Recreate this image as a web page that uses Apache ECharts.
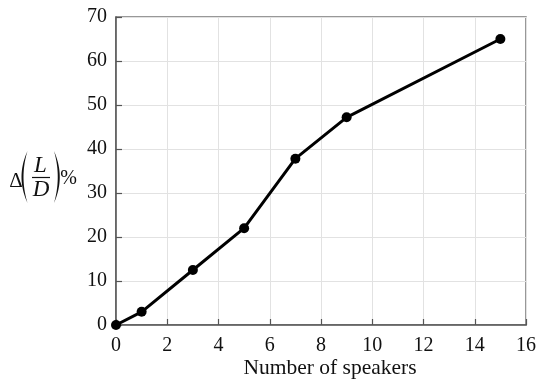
<!DOCTYPE html>
<html>
<head>
<meta charset="utf-8">
<script src="https://cdn.jsdelivr.net/npm/echarts@6/dist/echarts.min.js"></script>
<style>
  html, body { margin: 0; padding: 0; background: #fff; }
  #chart { width: 538px; height: 381px; }
</style>
</head>
<body>
<div id="chart"></div>
<script>
// Lift-to-drag improvement versus number of speakers
var speakers = [0, 1, 3, 5, 7, 9, 15];
var deltaLD = [0, 3, 12.5, 22, 37.8, 47.2, 65];
var xTicks = [0, 2, 4, 6, 8, 10, 12, 14, 16];
var yTicks = [0, 10, 20, 30, 40, 50, 60, 70];
var xTitle = 'Number of speakers';

var serif = '"Liberation Serif", "DejaVu Serif", serif';
var points = speakers.map(function (s, i) { return [s, deltaLD[i]]; });

function label(text, x, y, font) {
  return { type: 'text', x: x, y: y,
    style: { text: text, font: font, fill: '#111', textAlign: 'center', textVerticalAlign: 'middle' } };
}

// Tall bracket drawn as a thin crescent: end x, top y, bottom y, outer and inner bulge x
function bracket(xe, y0, y1, outer, inner) {
  var pts = [], n = 24, ym = (y0 + y1) / 2, i, t, u;
  for (i = 0; i <= n; i++) {
    t = i / n; u = 1 - t;
    pts.push([u * u * xe + 2 * u * t * outer + t * t * xe, u * u * y0 + 2 * u * t * ym + t * t * y1]);
  }
  for (i = n; i >= 0; i--) {
    t = i / n; u = 1 - t;
    pts.push([u * u * xe + 2 * u * t * inner + t * t * xe, u * u * y0 + 2 * u * t * ym + t * t * y1]);
  }
  return { type: 'polygon', shape: { points: pts }, style: { fill: '#111' } };
}

var chart = echarts.init(document.getElementById('chart'));
chart.setOption({
  animation: false,
  backgroundColor: '#fff',
  grid: { left: 116, right: 12, top: 17, bottom: 56, outerBoundsMode: 'none', containLabel: false,
    show: true, borderColor: '#777', borderWidth: 1.5 },
  xAxis: {
    type: 'value', min: xTicks[0], max: xTicks[xTicks.length - 1], interval: 2,
    axisLine: { show: true, lineStyle: { color: '#555', width: 1.5 } },
    axisTick: { show: true, inside: true, length: 6, lineStyle: { color: '#555', width: 1.2 } },
    axisLabel: { fontFamily: serif, fontSize: 20, color: '#111', margin: 11 },
    splitLine: { show: true, lineStyle: { color: '#e2e2e2', width: 1 } }
  },
  yAxis: {
    type: 'value', min: yTicks[0], max: yTicks[yTicks.length - 1], interval: 10,
    axisLine: { show: true, lineStyle: { color: '#555', width: 1.5 } },
    axisTick: { show: true, inside: true, length: 6, lineStyle: { color: '#555', width: 1.2 } },
    axisLabel: { fontFamily: serif, fontSize: 20, color: '#111', margin: 9 },
    splitLine: { show: true, lineStyle: { color: '#e2e2e2', width: 1 } }
  },
  series: [{
    type: 'line',
    data: points,
    lineStyle: { color: '#000', width: 3 },
    itemStyle: { color: '#000' },
    symbol: 'circle',
    symbolSize: 10,
    clip: false
  }],
  graphic: [
    label(xTitle, 330, 368, '21.5px ' + serif),
    label('Δ', 16, 181, '21px ' + serif),
    bracket(27.5, 151, 203, 15.5, 19.5),
    label('L', 40.5, 166, 'italic 23px ' + serif),
    { type: 'line', shape: { x1: 32, y1: 177.5, x2: 50, y2: 177.5 }, style: { stroke: '#111', lineWidth: 1.2 } },
    label('D', 41, 190, 'italic 23px ' + serif),
    bracket(54, 151, 203, 65.5, 61.5),
    label('%', 68.5, 179, '20px ' + serif)
  ]
});
</script>
</body>
</html>
